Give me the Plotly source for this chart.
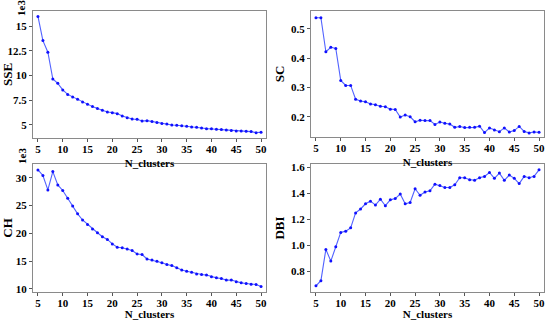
import plotly.graph_objects as go

n_clusters = list(range(5, 51))

sse = [16.0, 13.55, 12.37, 9.66, 9.22, 8.55, 8.1, 7.84, 7.6, 7.33, 7.1, 6.86, 6.66, 6.49,
       6.32, 6.25, 6.15, 5.9, 5.74, 5.6, 5.57, 5.4, 5.44, 5.34, 5.24, 5.14, 5.1, 5.0, 4.97,
       4.93, 4.86, 4.8, 4.76, 4.7, 4.63, 4.63, 4.56, 4.53, 4.5, 4.43, 4.4, 4.4, 4.36, 4.33,
       4.22, 4.26]

sc = [0.538, 0.538, 0.422, 0.437, 0.433, 0.324, 0.307, 0.307, 0.26, 0.254, 0.251, 0.244,
      0.241, 0.236, 0.234, 0.226, 0.225, 0.199, 0.206, 0.2, 0.183, 0.188, 0.187, 0.187,
      0.174, 0.182, 0.178, 0.175, 0.164, 0.167, 0.163, 0.164, 0.164, 0.168, 0.146, 0.162,
      0.155, 0.149, 0.162, 0.148, 0.153, 0.167, 0.15, 0.145, 0.148, 0.147]

ch = [31.4, 30.4, 27.8, 31.1, 28.7, 27.7, 26.3, 24.9, 23.5, 22.4, 21.6, 20.8, 20.1, 19.4,
      18.9, 18.1, 17.5, 17.4, 17.2, 16.9, 16.3, 16.2, 15.4, 15.2, 15.0, 14.7, 14.4, 14.2,
      13.8, 13.4, 13.2, 13.0, 12.7, 12.6, 12.5, 12.2, 12.0, 11.9, 11.6, 11.6, 11.3, 11.1,
      11.0, 10.85, 10.8, 10.45]

dbi = [0.69, 0.73, 0.97, 0.88, 0.99, 1.10, 1.11, 1.135, 1.25, 1.28, 1.32, 1.34, 1.31, 1.355,
       1.305, 1.35, 1.36, 1.395, 1.32, 1.33, 1.435, 1.385, 1.41, 1.42, 1.47, 1.46, 1.445,
       1.445, 1.465, 1.52, 1.52, 1.505, 1.5, 1.52, 1.53, 1.56, 1.515, 1.555, 1.5, 1.54,
       1.515, 1.475, 1.53, 1.52, 1.53, 1.58]

x_ticks = [5, 10, 15, 20, 25, 30, 35, 40, 45, 50]
sse_ticks = [5, 7.5, 10, 12.5, 15]
sc_ticks = [0.2, 0.3, 0.4, 0.5]
ch_ticks = [10, 15, 20, 25, 30]
dbi_ticks = [0.8, 1.0, 1.2, 1.4, 1.6]

W, H = 550, 320
FONT = "Liberation Serif"

panels = [
    # (values, title, ticks, tickfmt, yrange, x0, x1, ytop, ybot)
    (sse, "SSE", sse_ticks, None, [3.68, 16.55], 33, 266, 11, 138),
    (sc, "SC", sc_ticks, None, [0.131, 0.561], 311, 544, 11, 137),
    (ch, "CH", ch_ticks, None, [9.46, 32.46], 33, 266, 164, 292),
    (dbi, "DBI", dbi_ticks, ".1f", [0.643, 1.625], 311, 544, 164, 292),
]

fig = go.Figure()
for i, (vals, title, ticks, fmt, yr, x0, x1, yt, yb) in enumerate(panels, start=1):
    xa = "x" if i == 1 else f"x{i}"
    ya = "y" if i == 1 else f"y{i}"
    fig.add_trace(go.Scatter(
        x=n_clusters, y=vals, xaxis=xa, yaxis=ya, mode="lines+markers",
        line=dict(color="rgba(50,70,255,0.85)", width=1.1),
        marker=dict(color="#1010ff", size=3),
        showlegend=False, hoverinfo="x+y",
    ))
    tf = dict(family=FONT, size=11, color="black", weight="bold")
    yf = dict(family=FONT, size=13, color="black", weight="bold")
    axis_common = dict(
        showline=True, mirror=True, linecolor="#8a8a8a", linewidth=1.2,
        showgrid=False, zeroline=False, ticks="outside", ticklen=3,
        tickcolor="#555", tickfont=tf, automargin=False,
    )
    fig.layout[f"xaxis{'' if i == 1 else i}"] = dict(
        axis_common, domain=[x0 / W, x1 / W], anchor=ya, range=[4.0, 51.0],
        tickvals=x_ticks, ticklabelstandoff=-2,
        title=dict(text="N_clusters", standoff=5, font=tf),
    )
    fig.layout[f"yaxis{'' if i == 1 else i}"] = dict(
        axis_common, domain=[1 - yb / H, 1 - yt / H], anchor=xa, range=yr,
        tickvals=ticks, tickformat=fmt,
        title=dict(text=title, standoff=3, font=yf),
    )

for (cx, cy) in [(21, 8), (22, 156)]:
    fig.add_annotation(
        x=cx / W, y=1 - cy / H, xref="paper", yref="paper", text="1e3",
        textangle=-90, showarrow=False, xanchor="center", yanchor="middle",
        font=dict(family=FONT, size=11, color="black", weight="bold"),
    )

fig.update_layout(
    width=W, height=H, margin=dict(l=0, r=0, t=0, b=0),
    paper_bgcolor="white", plot_bgcolor="white",
    font=dict(family=FONT, size=11, color="black"),
)

fig.write_html(
    "out.html",
    config={"displayModeBar": False},
    post_script="document.body.style.margin='0';document.body.style.overflow='hidden';",
)
